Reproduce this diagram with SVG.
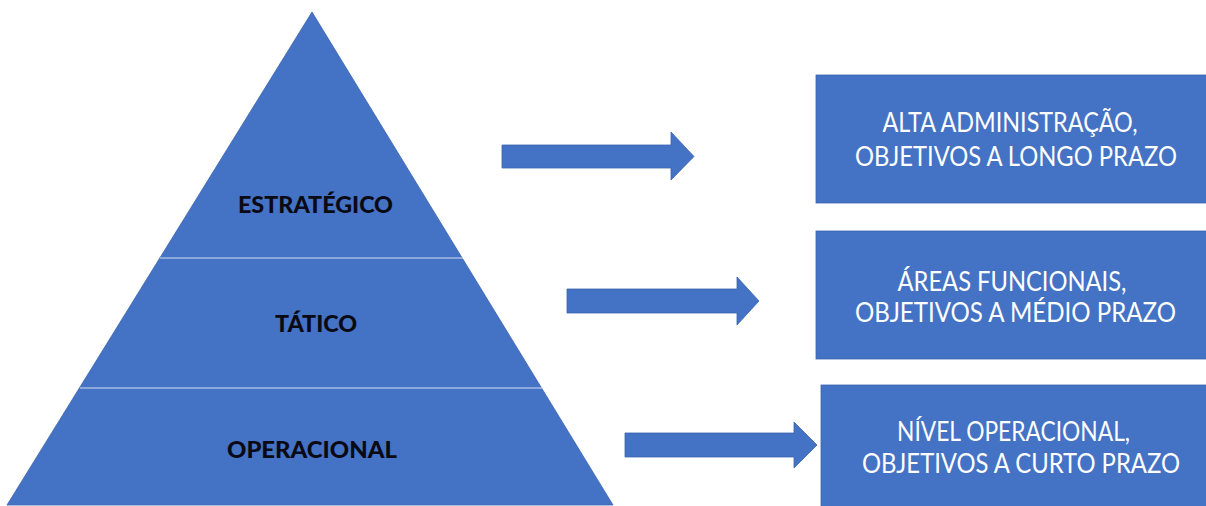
<svg xmlns="http://www.w3.org/2000/svg" width="1206" height="506" viewBox="0 0 1206 506">
  <style>
    .shape { fill: #4472C4; stroke: #3B65B0; stroke-width: 0.8; }
    .div { stroke: #D6E0F2; stroke-width: 1.2; }
    .lvl { font-family: Lato, "Open Sans", sans-serif; font-weight: 900; font-size: 23px; fill: #0A0A14; text-anchor: middle; }
    .box { font-family: Lato, "Open Sans", sans-serif; font-size: 26px; fill: #FFFFFF; text-anchor: middle; }
  </style>
  <rect width="1206" height="506" fill="#FFFFFF"/>
  <g id="pyramid">
    <polygon class="shape" points="312,12 7,505 613,505"/>
    <line class="div" x1="160" y1="258" x2="463" y2="258"/>
    <line class="div" x1="80" y1="388" x2="543" y2="388"/>
    <text class="lvl" x="315.5" y="212.5" textLength="155" lengthAdjust="spacingAndGlyphs">ESTRATÉGICO</text>
    <text class="lvl" x="316" y="331.5" textLength="82" lengthAdjust="spacingAndGlyphs">TÁTICO</text>
    <text class="lvl" x="312" y="457.5" textLength="170" lengthAdjust="spacingAndGlyphs">OPERACIONAL</text>
  </g>
  <g id="connectors">
    <polygon class="shape" points="502,145 671,145 671,132 694,156.5 671,180 671,168 502,168"/>
    <polygon class="shape" points="567,289 737,289 737,277 759,301 737,325 737,313 567,313"/>
    <polygon class="shape" points="625,433 794,433 794,422 817,445 794,468 794,457 625,457"/>
  </g>
  <g id="box-estrategico">
    <rect class="shape" x="816" y="75" width="391" height="128"/>
    <text class="box" x="1010" y="131.5" textLength="255" lengthAdjust="spacingAndGlyphs">ALTA ADMINISTRAÇÃO,</text>
    <text class="box" x="1016" y="165.5" textLength="322" lengthAdjust="spacingAndGlyphs">OBJETIVOS A LONGO PRAZO</text>
  </g>
  <g id="box-tatico">
    <rect class="shape" x="816" y="231" width="391" height="128"/>
    <text class="box" x="1012" y="290.5" textLength="229" lengthAdjust="spacingAndGlyphs">ÁREAS FUNCIONAIS,</text>
    <text class="box" x="1015.5" y="321.5" textLength="321" lengthAdjust="spacingAndGlyphs">OBJETIVOS A MÉDIO PRAZO</text>
  </g>
  <g id="box-operacional">
    <rect class="shape" x="821" y="385" width="386" height="122"/>
    <text class="box" x="1013.5" y="440.5" textLength="233" lengthAdjust="spacingAndGlyphs">NÍVEL OPERACIONAL,</text>
    <text class="box" x="1021" y="472.5" textLength="318" lengthAdjust="spacingAndGlyphs">OBJETIVOS A CURTO PRAZO</text>
  </g>
</svg>
